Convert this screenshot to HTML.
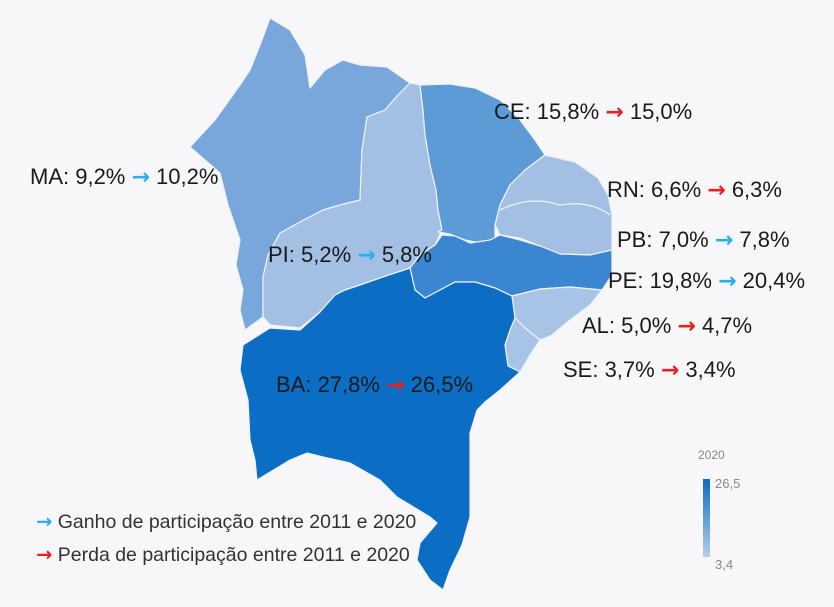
<!DOCTYPE html>
<html><head><meta charset="utf-8"><style>
body{margin:0;background:#f7f7f9;}
svg{display:block;font-family:"Liberation Sans",sans-serif;}
.l{font-size:22px;fill:#1a1a1a;}
.a{font-family:"DejaVu Sans",sans-serif;font-weight:bold;font-size:22px;}
.b{fill:#29b0e8;}.r{fill:#e82020;}
</style></head><body>
<svg width="834" height="607" viewBox="0 0 834 607">
<rect width="834" height="607" fill="#f7f7f9"/>
<g stroke="#eef3fa" stroke-width="1.2" stroke-linejoin="round">
<polygon fill="#7aa7db" points="270,18 290,30 305,55 310,88 325,70 343,60 360,65 387,67 410,83 398,95 385,110 367,117 362,150 360,200 340,205 323,210 300,222 280,233 268,255 263,277 263,317 245,330 240,310 243,290 236,265 240,240 228,205 220,173 205,160 190,147 215,120 240,85 250,70 262,40"/>
<polygon fill="#a3bfe4" points="410,83 420,85 423,110 425,135 430,165 436,190 438,210 442,230 435,245 420,255 410,268 380,278 360,285 345,290 335,295 320,312 300,328 270,325 263,317 263,277 268,255 280,233 300,222 323,210 340,205 360,200 362,150 367,117 385,110 398,95"/>
<polygon fill="#5c9bd6" points="420,85 450,84 475,88 500,100 520,120 535,140 545,155 525,170 510,185 500,205 495,225 495,240 480,243 465,240 450,234 438,232 442,230 438,210 436,190 430,165 425,135 423,110"/>
<polygon fill="#a3bfe4" points="545,155 575,162 598,178 608,195 612,215 612,250 590,255 560,254 540,246 520,238 500,235 495,225 500,205 510,185 525,170"/>
<path d="M500,210 Q530,195 560,205 Q590,200 610,215" fill="none"/>
<polygon fill="#3b86d0" points="410,268 420,255 435,245 442,235 455,236 470,243 490,240 500,235 520,240 540,246 560,254 590,255 612,250 612,275 602,290 570,287 540,289 512,296 495,288 475,282 455,282 440,290 425,298 415,290"/>
<polygon fill="#a7c3e6" points="512,296 540,289 570,287 602,290 590,305 570,320 552,335 540,340 525,328 515,318"/>
<polygon fill="#a7c3e6" points="515,318 525,328 540,340 530,355 520,372 508,366 505,345 510,330"/>
<polygon fill="#0b6dc4" points="243,345 270,328 300,330 320,312 335,295 345,290 360,285 380,278 410,268 415,290 425,298 440,290 455,282 475,282 495,288 512,296 515,318 510,330 505,345 508,366 520,372 500,390 485,402 477,410 470,433 470,470 470,497 470,517 462,545 450,570 443,590 430,580 417,560 420,543 437,523 430,517 397,497 380,480 350,463 323,457 307,453 290,460 257,480 255,460 250,440 248,400 240,370"/>
</g>
<text class="l" x="494" y="119">CE: 15,8% <tspan class="a r">→</tspan> 15,0%</text>
<text class="l" x="30" y="184">MA: 9,2% <tspan class="a b">→</tspan> 10,2%</text>
<text class="l" x="607" y="197">RN: 6,6% <tspan class="a r">→</tspan> 6,3%</text>
<text class="l" x="617" y="247">PB: 7,0% <tspan class="a b">→</tspan> 7,8%</text>
<text class="l" x="608" y="288">PE: 19,8% <tspan class="a b">→</tspan> 20,4%</text>
<text class="l" x="582" y="333">AL: 5,0% <tspan class="a r">→</tspan> 4,7%</text>
<text class="l" x="563" y="377">SE: 3,7% <tspan class="a r">→</tspan> 3,4%</text>
<text class="l" x="268" y="262">PI: 5,2% <tspan class="a b">→</tspan> 5,8%</text>
<text class="l" x="276" y="392">BA: 27,8% <tspan class="a r">→</tspan> 26,5%</text>
<text x="36" y="528" font-size="19.5" fill="#333"><tspan class="b" font-family="DejaVu Sans" font-weight="bold">→</tspan> Ganho de participação entre 2011 e 2020</text>
<text x="36" y="561" font-size="19.5" fill="#333"><tspan class="r" font-family="DejaVu Sans" font-weight="bold">→</tspan> Perda de participação entre 2011 e 2020</text>
<defs><linearGradient id="g" x1="0" y1="0" x2="0" y2="1"><stop offset="0" stop-color="#0b6dc4"/><stop offset="1" stop-color="#b5cdea"/></linearGradient></defs>
<rect x="703" y="479" width="7" height="78" fill="url(#g)"/>
<text x="698" y="459" font-size="12" fill="#888">2020</text>
<text x="715" y="488" font-size="13" fill="#888">26,5</text>
<text x="715" y="569" font-size="13" fill="#888">3,4</text>
</svg>
</body></html>
